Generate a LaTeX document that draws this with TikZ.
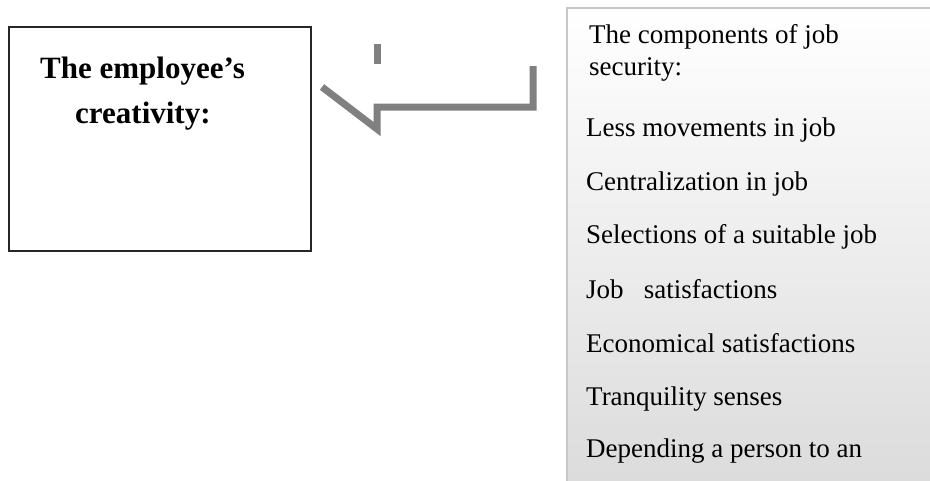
\documentclass[tikz,border=0pt]{standalone}
\usepackage{fontspec}
\setmainfont{Liberation Serif}
\begin{document}
\begin{tikzpicture}[x=1pt,y=-1pt,
  leftbox/.style={draw=black!85,line width=2pt},
  rightbox/.style={draw=black!22,line width=2pt,top color=white,bottom color=black!14},
  head/.style={anchor=base west,inner sep=0pt,font=\fontsize{31}{34}\selectfont\bfseries},
  item/.style={anchor=base west,inner sep=0pt,font=\fontsize{27}{30}\selectfont},
  conn/.style={draw=black!50,line width=7pt}]
\useasboundingbox (0,0) rectangle (930,480);
% left box
\draw[leftbox] (9,27) rectangle (311,251);
\node[head] (t1) at (40,78) {The employee’s};
\node[head] (t2) at (75,123) {creativity:};
% right box
\path[rightbox] (567,8) rectangle (936,486);
\node[item] (h1) at (589,43) {The components of job};
\node[item] (h2) at (589,75) {security:};
\node[item] (i1) at (586,136) {Less movements in job};
\node[item] (i2) at (586,190) {Centralization in job};
\node[item] (i3) at (586,243) {Selections of a suitable job};
\node[item] (i4) at (586,298) {Job\ \ \ satisfactions};
\node[item] (i5) at (586,352) {Economical satisfactions};
\node[item] (i6) at (586,405) {Tranquility senses};
\node[item] (i7) at (586,457) {Depending a person to an};
% connector
\coordinate (c1) at (322,87);
\coordinate (c2) at (377,129);
\coordinate (c3) at (377,107);
\coordinate (c4) at (533,107);
\coordinate (c5) at (533,66);
\coordinate (s1) at (377,44);
\coordinate (s2) at (377,64);
\draw[conn,line join=miter] (c1) -- (c2) -- (c3) -- (c4) -- (c5);
\draw[conn] (s1) -- (s2);
\end{tikzpicture}
\end{document}
